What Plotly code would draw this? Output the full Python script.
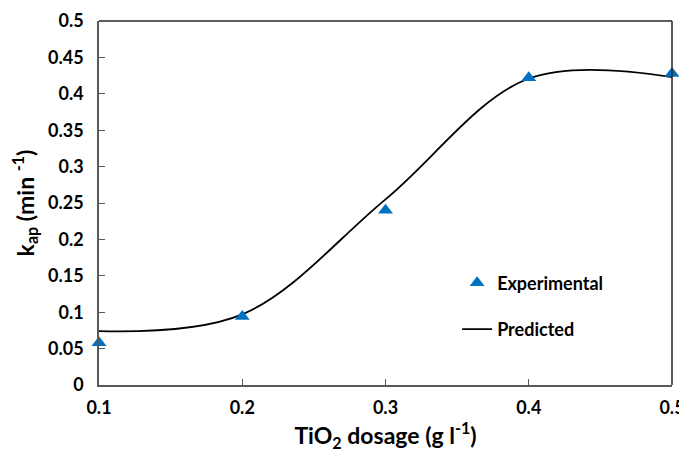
import plotly.graph_objects as go

dosage = [0.1, 0.2, 0.3, 0.4, 0.5]
k_experimental = [0.058, 0.094, 0.240, 0.422, 0.428]
k_predicted = [0.074, 0.097, 0.255, 0.421, 0.423]

FONT = "Lato"
fig = go.Figure()

fig.add_trace(go.Scatter(
    x=dosage, y=k_predicted, mode="lines", name="Predicted",
    line=dict(color="black", width=1.8, shape="spline", smoothing=1.0),
    legendgroup="b", legendrank=2,
))
fig.add_trace(go.Scatter(
    x=dosage, y=k_experimental, mode="markers", name="Experimental",
    marker=dict(symbol="triangle-up", size=13, color="#0070C0"),
    legendgroup="a", legendrank=1, cliponaxis=False,
))

axis_common = dict(
    showgrid=False, zeroline=False, showline=True, linecolor="#595959", linewidth=1.5,
    ticks="inside", ticklen=6, tickcolor="#595959", tickwidth=1.2, automargin=False,
    tickfont=dict(family=FONT, size=18, color="black", weight="bold"),
)

# page body has an 8px margin, so the figure is sized/offset to compensate
fig.update_layout(
    width=679, height=445,
    margin=dict(l=91, r=15, t=13, b=68),
    paper_bgcolor="white", plot_bgcolor="white",
    xaxis=dict(range=[0.1, 0.5], dtick=0.1, tick0=0.1, ticklabelstandoff=6,
               title=dict(text="TiO<sub>2</sub> dosage (g l<sup>-1</sup>)",
                          font=dict(family=FONT, size=23, color="black", weight="bold"), standoff=8),
               **axis_common),
    yaxis=dict(range=[0, 0.5], dtick=0.05, tick0=0, ticklabelstandoff=10,
               title=dict(text="k<sub>ap</sub> (min <sup>-1</sup>)",
                          font=dict(family=FONT, size=23, color="black", weight="bold"), standoff=10),
               **axis_common),
    showlegend=True,
    legend=dict(x=0.625, y=0.331, xanchor="left", yanchor="top",
                font=dict(family=FONT, size=18, color="black", weight="bold"),
                bgcolor="rgba(0,0,0,0)", traceorder="grouped", tracegroupgap=20),
    shapes=[
        dict(type="line", xref="paper", yref="paper", x0=0, x1=1, y0=1, y1=1,
             line=dict(color="#262626", width=1.5)),
        dict(type="line", xref="paper", yref="paper", x0=1, x1=1, y0=0, y1=1,
             line=dict(color="#262626", width=1.5)),
    ],
)

fig.write_html("out.html")
